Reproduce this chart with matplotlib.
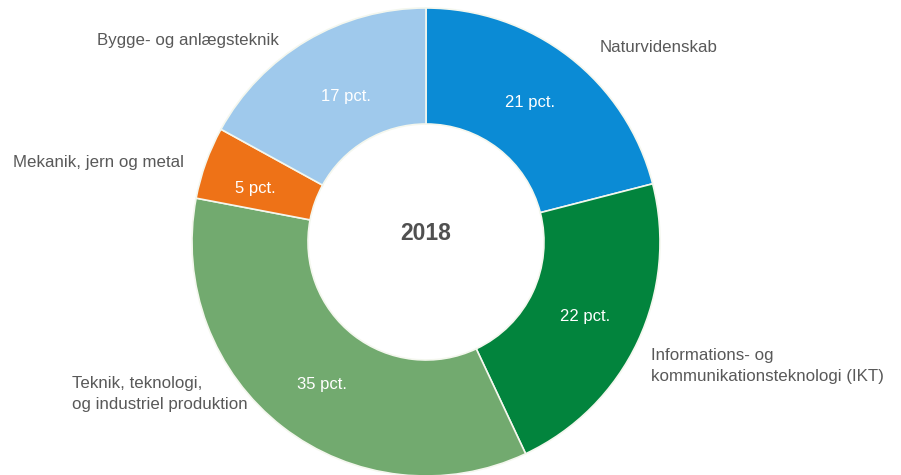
import matplotlib.pyplot as plt

# data (clockwise from 12 o'clock)
fields = ['Naturvidenskab',
          'Informations- og\nkommunikationsteknologi (IKT)',
          'Teknik, teknologi,\nog industriel produktion',
          'Mekanik, jern og metal',
          'Bygge- og anlægsteknik']
shares = [21, 22, 35, 5, 17]
colors = ['#0b8bd5', '#02843d', '#72aa6f', '#ee7217', '#9fc9ec']
year = '2018'

# label placement in pixel coords (x, y from top)
name_pos = [(600, 48), (651, 366), (72, 394), (13, 163), (97, 40)]
pct_pos = [(530, 103), (585, 316), (322, 385), (255, 188), (346, 96)]

plt.rcParams['font.family'] = ['Liberation Sans', 'DejaVu Sans']

W, H = 901, 475
fig = plt.figure(figsize=(W / 100, H / 100), dpi=100)
ax = fig.add_axes([0, 0, 1, 1])

cx, cy, R = 426, H - 242, 234
ax.pie(shares, colors=colors, startangle=90, counterclock=False,
       center=(cx, cy), radius=R, frame=True,
       wedgeprops=dict(width=R - 118, edgecolor='#f4f7ee', linewidth=1.2))
ax.set_xlim(0, W)
ax.set_ylim(0, H)
ax.set_aspect('equal')
ax.axis('off')

for name, (x, y) in zip(fields, name_pos):
    ax.text(x, H - y, name, ha='left', va='center', fontsize=12.2,
            color='#595959', linespacing=1.45)

for s, (x, y) in zip(shares, pct_pos):
    ax.text(x, H - y, f'{s} pct.', ha='center', va='center', fontsize=12,
            color='white')

ax.text(cx, H - 233, year, ha='center', va='center', fontsize=16.5,
        fontweight='bold', color='#505050')

fig.savefig('out.png', dpi=100)
